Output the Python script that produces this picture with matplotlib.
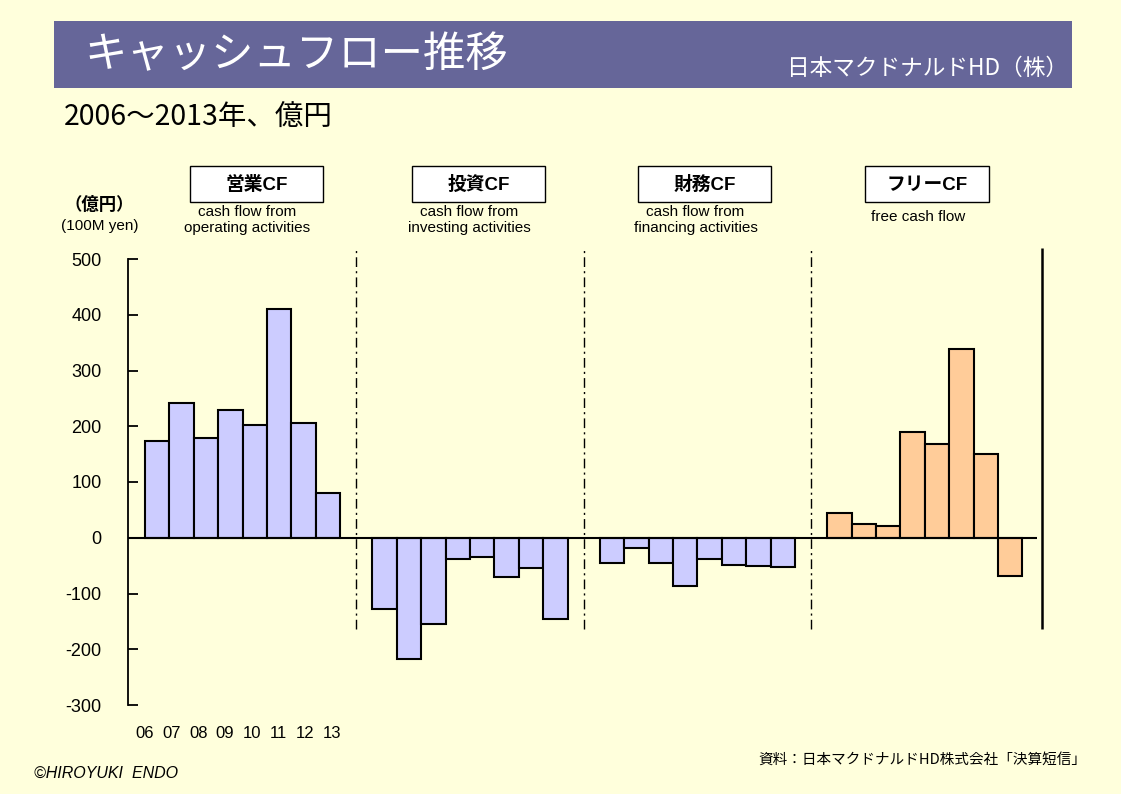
import numpy as np
import matplotlib.pyplot as plt
from matplotlib.patches import Rectangle

plt.rcParams['font.family'] = ['Liberation Sans', 'Noto Sans CJK JP']
plt.rcParams['axes.unicode_minus'] = False

# ===================== Data (億円) =====================
years = ["06", "07", "08", "09", "10", "11", "12", "13"]
groups = ["営業CF", "投資CF", "財務CF", "フリーCF"]
group_notes = [
    "cash flow from\noperating activities",
    "cash flow from\ninvesting activities",
    "cash flow from\nfinancing activities",
    "free cash flow",
]
operating_cf = [174, 242, 179, 229, 202, 411, 205, 80]
investing_cf = [-128, -218, -155, -39, -34, -71, -55, -146]
financing_cf = [-45, -18, -45, -86, -39, -48, -50, -52]
free_cf = [45, 25, 21, 189, 168, 339, 150, -68]
yticks = [500, 400, 300, 200, 100, 0, -100, -200, -300]

series = [operating_cf, investing_cf, financing_cf, free_cf]
colors = ["#CCCCFF", "#CCCCFF", "#CCCCFF", "#FFCC99"]

# ===================== Figure =====================
W, H = 1121, 794
fig = plt.figure(figsize=(W / 100, H / 100), dpi=100)
fig.patch.set_facecolor("#FFFFDC")


def fx(x):
    return x / W


def fy(y):
    return 1 - y / H


# title banner
fig.patches.append(Rectangle((fx(54), fy(88)), fx(1072) - fx(54), fy(21) - fy(88),
                             transform=fig.transFigure, facecolor="#666699",
                             edgecolor="none"))
fig.text(fx(84), fy(55), "キャッシュフロー推移", color="white", fontsize=30.5,
         family="Noto Sans CJK JP", ha="left", va="center")
fig.text(fx(1068), fy(68), "日本マクドナルドHD（株）", color="white", fontsize=16.3,
         family="Noto Sans CJK JP", ha="right", va="center")
fig.text(fx(64), fy(118), "2006～2013年、億円", fontsize=20.5,
         family="Noto Sans CJK JP", ha="left", va="center")

# unit
fig.text(fx(99), fy(205), "（億円）", fontsize=12.5, fontweight="bold",
         family="Noto Sans CJK JP", ha="center", va="center")
fig.text(fx(100), fy(226), "(100M yen)", fontsize=11, ha="center", va="center")

# group header boxes
box_left = [190, 412, 638, 865]
box_w = [133, 133, 133, 124]
for name, note, bl, bw in zip(groups, group_notes, box_left, box_w):
    fig.patches.append(Rectangle((fx(bl), fy(202)), fx(bw), fy(166) - fy(202),
                                 transform=fig.transFigure, facecolor="white",
                                 edgecolor="black", linewidth=1))
    fig.text(fx(bl + bw / 2), fy(185), name, fontsize=13.5, fontweight="bold",
             ha="center", va="center")
    ny = 220 if "\n" in note else 217
    fig.text(fx(bl + bw / 2 - 9), fy(ny), note, fontsize=11, ha="center",
             va="center", linespacing=1.15)

# ===================== Axes =====================
ax = fig.add_axes([fx(128), fy(705), fx(1042) - fx(128), fy(259) - fy(705)])
ax.patch.set_alpha(0)

n = len(years)
step = 9.32  # bar slots per group incl. gap
for g, (vals, col) in enumerate(zip(series, colors)):
    xs = g * step + np.arange(n)
    ax.bar(xs, vals, width=1.0, color=col, edgecolor="black", linewidth=1.5,
           zorder=2)

ax.set_xlim(-1.2, 36.26)
ax.set_ylim(-300, 500)

ax.hlines(0, -1.2, 36.06, color="black", linewidth=1.5, zorder=3)
for g in range(1, 4):
    ax.vlines(g * step - 1.16, -164, 520, color="black", linewidth=1,
              linestyles=(0, (7, 3, 1.5, 3)), clip_on=False)
ax.vlines(36.26, -164, 520, color="black", linewidth=1.8, clip_on=False)

for s in ["top", "right", "bottom"]:
    ax.spines[s].set_visible(False)
ax.spines["left"].set_linewidth(1.3)

ax.set_yticks(yticks, [str(v) for v in yticks])
ax.tick_params(axis="y", direction="in", length=7, width=1.3, pad=19,
               labelsize=13)
# year labels are spread slightly wider than the bars in the original
ax.set_xticks(np.arange(n) * 1.094 - 0.5, years)
ax.tick_params(axis="x", length=0, pad=15, labelsize=12)

# footer
fig.text(fx(34), fy(773), "©HIROYUKI  ENDO", fontsize=11.5, style="italic",
         ha="left", va="center")
fig.text(fx(1086), fy(760), "資料：日本マクドナルドHD株式会社「決算短信」",
         fontsize=10.5, family="Noto Sans CJK JP", ha="right", va="center")

fig.savefig("out.png", dpi=100, facecolor=fig.get_facecolor())
